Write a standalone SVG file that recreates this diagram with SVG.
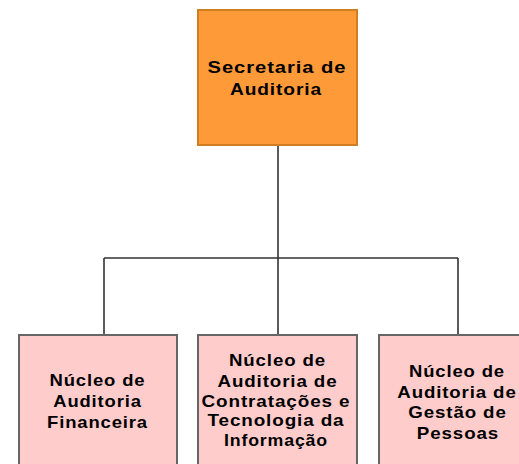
<svg xmlns="http://www.w3.org/2000/svg" width="519" height="464" viewBox="0 0 519 464">
<style>
text{font-family:"Liberation Sans",Arial,Helvetica,sans-serif;font-weight:bold;font-size:17px;fill:#000;text-anchor:middle;letter-spacing:0.8px}
.top{fill:#FF9A38;stroke:#CF7E22;stroke-width:2}
.sub{fill:#FFCCCC;stroke:#666666;stroke-width:2}
.conn{fill:none;stroke:#333333;stroke-width:1.6}
</style>
<rect width="519" height="464" fill="#ffffff"/>
<g id="connectors">
<path class="conn" d="M278,145 V258 M104,258 H458 M104,258 V335 M278,258 V335 M458,258 V335"/>
</g>
<g id="secretaria">
<rect class="top" x="198" y="10" width="159" height="135"/>
<text x="277" y="73" textLength="139" lengthAdjust="spacingAndGlyphs">Secretaria de</text>
<text x="276" y="94.5" textLength="92" lengthAdjust="spacingAndGlyphs">Auditoria</text>
</g>
<g id="nucleo-financeira">
<rect class="sub" x="19" y="335" width="158" height="140"/>
<text x="97.5" y="386" textLength="96" lengthAdjust="spacingAndGlyphs">Núcleo de</text>
<text x="97.5" y="407" textLength="88.5" lengthAdjust="spacingAndGlyphs">Auditoria</text>
<text x="97.5" y="427.5" textLength="101" lengthAdjust="spacingAndGlyphs">Financeira</text>
</g>
<g id="nucleo-contratacoes">
<rect class="sub" x="198" y="335" width="159" height="140"/>
<text x="277.5" y="366" textLength="97" lengthAdjust="spacingAndGlyphs">Núcleo de</text>
<text x="277.5" y="386.5" textLength="120" lengthAdjust="spacingAndGlyphs">Auditoria de</text>
<text x="276" y="406.7" textLength="149" lengthAdjust="spacingAndGlyphs">Contratações e</text>
<text x="276" y="426" textLength="137" lengthAdjust="spacingAndGlyphs">Tecnologia da</text>
<text x="276" y="445.5" textLength="104" lengthAdjust="spacingAndGlyphs">Informação</text>
</g>
<g id="nucleo-gestao">
<rect class="sub" x="379" y="335" width="158" height="140"/>
<text x="457" y="376.5" textLength="96" lengthAdjust="spacingAndGlyphs">Núcleo de</text>
<text x="457" y="397.5" textLength="119.3" lengthAdjust="spacingAndGlyphs">Auditoria de</text>
<text x="457.5" y="418" textLength="98.4" lengthAdjust="spacingAndGlyphs">Gestão de</text>
<text x="458" y="438.5" textLength="82.3" lengthAdjust="spacingAndGlyphs">Pessoas</text>
</g>
</svg>
